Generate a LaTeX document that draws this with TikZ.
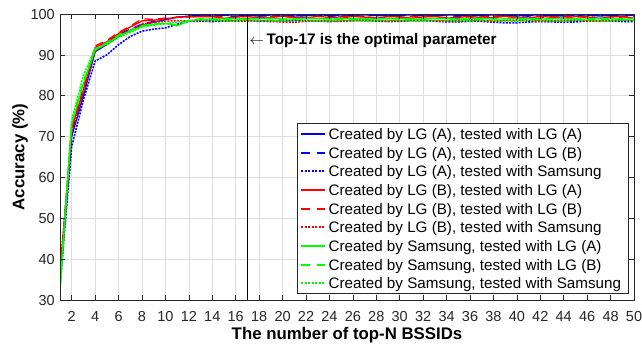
\documentclass[tikz,border=0pt]{standalone}
\usepackage{fontspec}
\setmainfont{Liberation Sans}
\definecolor{axc}{gray}{0.15}
\definecolor{gridc}{gray}{0.87}
\definecolor{mblue}{rgb}{0,0,1}
\definecolor{mred}{rgb}{1,0,0}
\definecolor{mgreen}{rgb}{0,1,0}
\tikzset{
  gridline/.style={draw=gridc, line width=0.6pt},
  axline/.style={draw=axc, line width=0.7pt},
  ticklab/.style={text=axc, font=\fontsize{14.5}{16}\selectfont, inner sep=0pt},
  curve/.style={line width=1.3pt, line join=round},
  solidc/.style={curve},
  dashc/.style={curve, dash pattern=on 8.5pt off 5.5pt},
  dotc/.style={curve, line width=1.6pt, dash pattern=on 2pt off 1.2pt},
  leglab/.style={font=\fontsize{15.2}{17}\selectfont, anchor=base west, inner sep=0pt, text=black},
  boldlab/.style={font=\bfseries\fontsize{16.8}{18}\selectfont, inner sep=0pt, text=black},
  annlab/.style={font=\bfseries\fontsize{15.3}{17}\selectfont, inner sep=0pt, text=black}
}
\begin{document}
\begin{tikzpicture}[x=1pt,y=1pt]
\useasboundingbox (0,0) rectangle (642,346);
\fill[white] (0,0) rectangle (642,346);
\begin{scope}[shift={(48.286pt,-76.571pt)}, x=11.7143pt, y=4.08571pt]
  % grid
  \foreach \i in {2,4,...,48} \draw[gridline] (\i,30) -- (\i,100);
  \foreach \v in {40,50,...,90} \draw[gridline] (1,\v) -- (50,\v);
  % curves
  \begin{scope}
    \clip (1,30) rectangle (50,100);
    % blue
    \draw[solidc, mblue] (1,34) -- (2,70) -- (3,80) -- (4,90.8) -- (5,92.5) -- (6,94.5) -- (7,96) -- (8,97.3) -- (9,98) -- (10,98.6) -- (11,99.2) -- (12,99.5)
      -- plot[domain=13:50, samples=38] (\x,{99.65+0.15*sin(\x*97)});
    \draw[dashc, mblue] (1,34.5) -- (2,71) -- (3,81) -- (4,91) -- (5,93) -- (6,95) -- (7,96.3) -- (8,97.5) -- (9,98.2) -- (10,98.8) -- (11,99.2) -- (12,99.5)
      -- plot[domain=13:50, samples=38] (\x,{99.6+0.25*sin(\x*131)});
    \draw[dotc, mblue] (1,33.5) -- (2,67.5) -- (3,79) -- (4,88.5) -- (5,90) -- (6,92.5) -- (7,94.5) -- (8,95.8) -- (9,96.3) -- (10,96.6) -- (11,97.5) -- (12,98.2)
      -- plot[domain=13:50, samples=38] (\x,{98.3+0.15*sin(\x*71)-0.35*exp(-((\x-40)/5)^2)});
    % red
    \draw[solidc, mred] (1,36) -- (2,72) -- (3,81.5) -- (4,91.8) -- (5,93.2) -- (6,95.2) -- (7,96.8) -- (8,98.3) -- (9,98.5) -- (10,98.8) -- (11,99.2) -- (12,99.3)
      -- plot[domain=13:50, samples=38] (\x,{99.2+0.25*sin(\x*113)});
    \draw[dashc, mred] (1,35) -- (2,72.5) -- (3,82) -- (4,92.2) -- (5,93.5) -- (6,95.5) -- (7,97) -- (8,98.8) -- (9,98.7) -- (10,99) -- (11,99.2) -- (12,99.3)
      -- plot[domain=13:50, samples=38] (\x,{99.2+0.3*sin(\x*59)});
    \draw[dotc, mred] (1,37) -- (2,71) -- (3,81) -- (4,91) -- (5,92.8) -- (6,94.8) -- (7,96) -- (8,97.5) -- (9,98) -- (10,98.2) -- (11,98.4) -- (12,98.3)
      -- plot[domain=13:50, samples=38] (\x,{98.4+0.15*sin(\x*83)-0.3*exp(-((\x-21)/3)^2)});
    % green
    \draw[solidc, mgreen] (1,33) -- (2,73) -- (3,83) -- (4,91.2) -- (5,92.8) -- (6,94.6) -- (7,95.8) -- (8,97) -- (9,97.5) -- (10,97.7) -- (11,97.1) -- (12,98.3)
      -- plot[domain=13:50, samples=38] (\x,{98.85+0.12*sin(\x*101)});
    \draw[dashc, mgreen] (1,33) -- (2,73.5) -- (3,83.5) -- (4,91.5) -- (5,93) -- (6,94.8) -- (7,96) -- (8,97.2) -- (9,97.6) -- (10,97.8) -- (11,97.3) -- (12,98.4)
      -- plot[domain=13:50, samples=38] (\x,{98.8+0.12*sin(\x*67)});
    \draw[dotc, mgreen] (1,32) -- (2,74) -- (3,85) -- (4,91.5) -- (5,92.5) -- (6,94.3) -- (7,95.5) -- (8,96.8) -- (9,97.3) -- (10,97.6) -- (11,98) -- (12,98.4)
      -- plot[domain=13:50, samples=38] (\x,{98.35+0.12*sin(\x*89)});
  \end{scope}
  % optimal line
  \coordinate (optb) at (17,30);
  \coordinate (optt) at (17,100);
  \draw[black, line width=1.5pt] (optb) -- (optt);
  % axes box and ticks
  \draw[axline] (1,30) rectangle (50,100);
  \foreach \i in {2,4,...,48} {
    \draw[axline] (\i,30) -- ++(0,5pt);
    \draw[axline] (\i,100) -- ++(0,-5pt);
  }
  \foreach \i in {2,4,...,50}
    \node[ticklab, anchor=base] (xl\i) at ([yshift=-21pt]\i,30) {\i};
  \foreach \v in {40,50,...,90} {
    \draw[axline] (1,\v) -- ++(5pt,0);
    \draw[axline] (50,\v) -- ++(-5pt,0);
  }
  \foreach \v in {30,40,...,100}
    \node[ticklab, anchor=base east] (yl\v) at ([xshift=-5pt,yshift=-5.2pt]1,\v) {\v};
  % annotation
  \node[annlab, anchor=west] (annot) at ([xshift=2pt]17,93.5) {\textmd{$\leftarrow$}\,Top-17 is the optimal parameter};
\end{scope}
% axis labels
\node[boldlab] (xlabel) at (347,11) {The number of top-N BSSIDs};
\node[boldlab, rotate=90] (ylabel) at (20,189) {Accuracy (\%)};
% legend
\node[draw=axc, line width=0.7pt, fill=white, minimum width=331pt, minimum height=170pt, anchor=north west, inner sep=0pt] (legend) at (297,223) {};
\foreach \k/\txt in {
  0/{Created by LG (A), tested with LG (A)},
  1/{Created by LG (A), tested with LG (B)},
  2/{Created by LG (A), tested with Samsung},
  3/{Created by LG (B), tested with LG (A)},
  4/{Created by LG (B), tested with LG (B)},
  5/{Created by LG (B), tested with Samsung},
  6/{Created by Samsung, tested with LG (A)},
  7/{Created by Samsung, tested with LG (B)},
  8/{Created by Samsung, tested with Samsung}} {
  \coordinate (ls\k) at (301,{212-18.67*\k});
  \coordinate (le\k) at (325,{212-18.67*\k});
  \node[leglab] (lt\k) at (328.5,{212-18.67*\k-5.4}) {\txt};
}
% solid samples
\foreach \k/\col in {0/mblue,3/mred,6/mgreen}
  \draw[solidc, draw=\col] (ls\k) -- (le\k);
% dashed samples
\foreach \k/\col in {1/mblue,4/mred,7/mgreen} {
  \fill[\col] ([yshift=-1pt]ls\k) rectangle ([xshift=8.5pt,yshift=1pt]ls\k);
  \fill[\col] ([xshift=-8.5pt,yshift=-1pt]le\k) rectangle ([yshift=1pt]le\k);
}
% dotted samples
\foreach \k/\col in {2/mblue,5/mred,8/mgreen}
  \foreach \d in {0,3.5,...,22}
    \fill[\col] ([xshift=\d pt,yshift=-1pt]ls\k) rectangle ([xshift=\d pt+2pt,yshift=1pt]ls\k);
\end{tikzpicture}
\end{document}
